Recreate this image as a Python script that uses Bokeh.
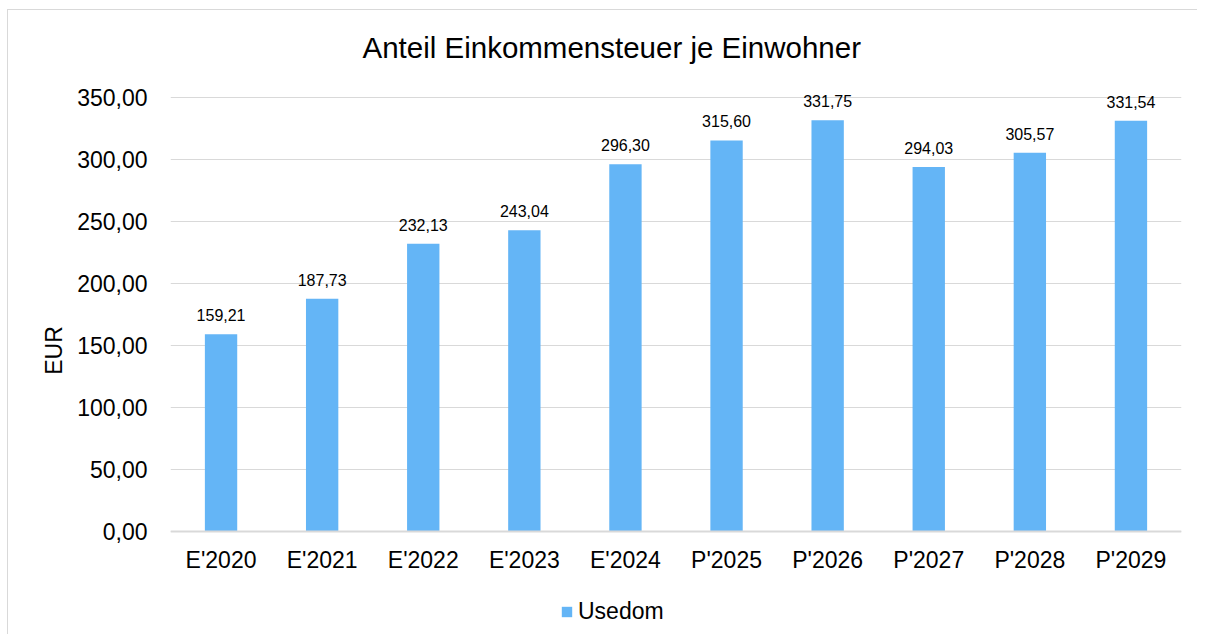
from bokeh.plotting import figure
from bokeh.models import (ColumnDataSource, FactorRange, Range1d, FixedTicker,
                          CustomJSTickFormatter, Legend, LegendItem)
from bokeh.core.properties import value
from bokeh.embed import file_html
from bokeh.resources import INLINE

categories = ["E'2020", "E'2021", "E'2022", "E'2023", "E'2024",
              "P'2025", "P'2026", "P'2027", "P'2028", "P'2029"]
usedom = [159.21, 187.73, 232.13, 243.04, 296.30,
          315.60, 331.75, 294.03, 305.57, 331.54]
y_ticks = [0, 50, 100, 150, 200, 250, 300, 350]
title_text = "Anteil Einkommensteuer je Einwohner"
series_name = "Usedom"
y_label = "EUR"

FONT = "Liberation Sans"
BAR = "#64B5F6"
GRID = "#d9d9d9"

src = ColumnDataSource(dict(
    cat=categories,
    val=usedom,
    lbl=[f"{v:.2f}".replace(".", ",") for v in usedom],
))

p = figure(width=1190, height=625, output_backend="svg", toolbar_location=None,
           x_range=FactorRange(*categories, range_padding=0),
           y_range=Range1d(-80, 372), title=title_text)
p.min_border_left = 162
p.min_border_right = 17
p.min_border_top = 60
p.min_border_bottom = 5
p.outline_line_color = None
p.background_fill_color = "white"
p.border_fill_color = "white"
p.styles = {"margin-left": "7px", "margin-top": "9px",
            "border-left": "1px solid #d9d9d9", "border-top": "1px solid #d9d9d9"}

p.title.align = "left"
p.title.offset = 192
p.title.standoff = 13
p.title.text_font = FONT
p.title.text_font_size = "29.5px"
p.title.text_font_style = "normal"
p.title.text_color = "#000000"

r = p.vbar(x="cat", top="val", width=0.32, source=src, fill_color=BAR, line_color=None)

p.text(x="cat", y="val", text="lbl", source=src, text_align="center",
       text_baseline="middle", y_offset=-19, text_font=value(FONT),
       text_font_size="16px", text_color="#000000")

p.xgrid.grid_line_color = None
p.ygrid.grid_line_color = GRID
p.ygrid.grid_line_width = 1
p.yaxis.ticker = FixedTicker(ticks=y_ticks)
p.yaxis.formatter = CustomJSTickFormatter(code="return tick.toFixed(2).replace('.', ',');")
p.yaxis.axis_line_color = None
p.yaxis.major_tick_line_color = None
p.yaxis.minor_tick_line_color = None
p.yaxis.major_label_standoff = 17
p.yaxis.major_label_text_font = FONT
p.yaxis.major_label_text_font_size = "23px"
p.yaxis.major_label_text_color = "#000000"
p.yaxis.axis_label = y_label
p.yaxis.axis_label_text_font = FONT
p.yaxis.axis_label_text_font_size = "23px"
p.yaxis.axis_label_text_font_style = "normal"
p.yaxis.axis_label_text_color = "#000000"
p.yaxis.axis_label_standoff = 7

p.xaxis.fixed_location = 0
p.xaxis.axis_line_color = GRID
p.xaxis.axis_line_width = 2
p.xaxis.major_tick_line_color = None
p.xaxis.minor_tick_line_color = None
p.xaxis.major_label_standoff = 10
p.xaxis.major_label_text_font = FONT
p.xaxis.major_label_text_font_size = "23px"
p.xaxis.major_label_text_color = "#000000"

legend = Legend(items=[LegendItem(label=series_name, renderers=[r])],
                location=(390, 5), orientation="horizontal",
                glyph_width=13, glyph_height=13, label_standoff=5,
                label_text_font=FONT, label_text_font_size="23px",
                label_text_color="#000000", padding=0, margin=0,
                border_line_color=None, background_fill_alpha=0)
p.add_layout(legend, "center")

open("out.html", "w").write(file_html(p, INLINE))
